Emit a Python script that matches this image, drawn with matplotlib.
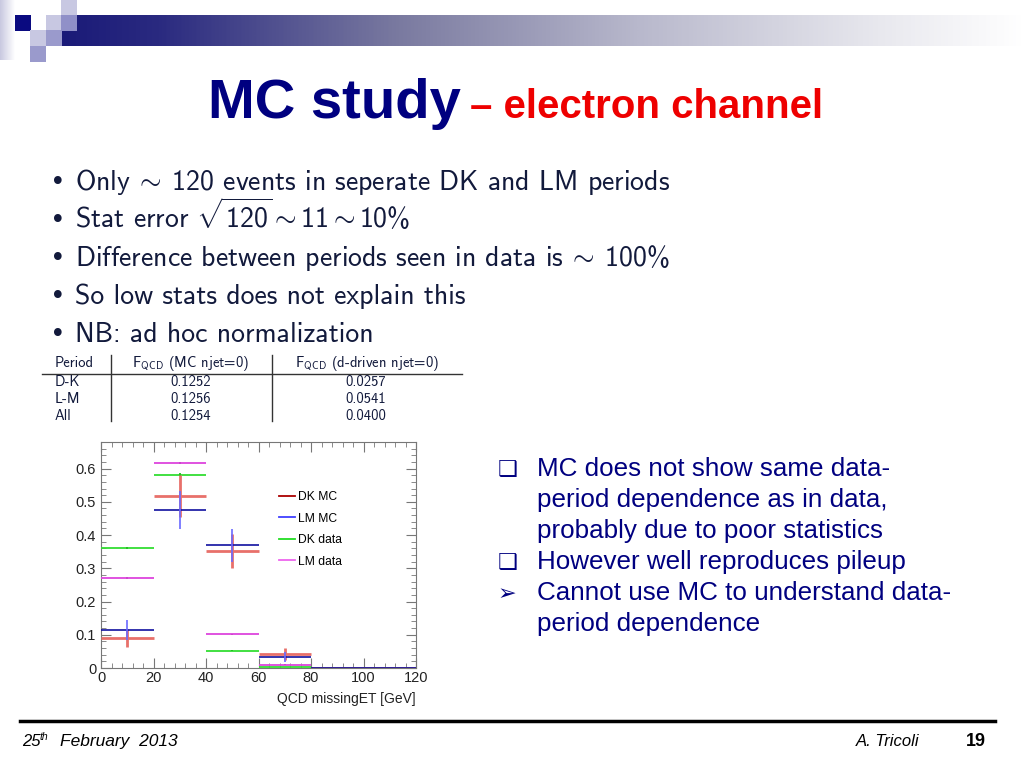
import numpy as np
import matplotlib
matplotlib.use("Agg")
import matplotlib.pyplot as plt
from matplotlib.patches import Rectangle
from matplotlib.colors import LinearSegmentedColormap
from matplotlib.lines import Line2D
from matplotlib.ticker import MultipleLocator

plt.rcParams['mathtext.fontset'] = 'custom'
plt.rcParams['mathtext.rm'] = 'cmss10'
plt.rcParams['mathtext.sf'] = 'cmss10'
plt.rcParams['mathtext.it'] = 'cmss10'
plt.rcParams['mathtext.fallback'] = 'cm'

# ---------------- data ----------------
bin_centers = [10, 30, 50, 70, 90, 110]
bin_halfwidth = 10
dk_mc = [0.090, 0.517, 0.352, 0.041, 0.0, 0.0]
dk_mc_err = [0.027, 0.063, 0.050, 0.018, 0.0, 0.0]
lm_mc = [0.113, 0.476, 0.369, 0.034, 0.0, 0.0]
lm_mc_err = [0.030, 0.057, 0.050, 0.015, 0.0, 0.0]
dk_data = [0.362, 0.582, 0.052, 0.003, 0.0, 0.0]
dk_data_err = [0.003, 0.004, 0.002, 0.001, 0.0, 0.0]
lm_data = [0.270, 0.617, 0.101, 0.010, 0.001, 0.001]
lm_data_err = [0.003, 0.004, 0.002, 0.001, 0.0, 0.0]
series_labels = ["DK MC", "LM MC", "DK data", "LM data"]
x_ticks = [0, 20, 40, 60, 80, 100, 120]
y_ticks = [0, 0.1, 0.2, 0.3, 0.4, 0.5, 0.6]
y_tick_labels = ["0", "0.1", "0.2", "0.3", "0.4", "0.5", "0.6"]

bullets = [
    r"Only$\;\sim\;$120 events in seperate DK and LM periods",
    r"Stat error $\sqrt{\mathsf{120}}\sim\mathsf{11}\sim\mathsf{10\%}$",
    r"Difference between periods seen in data is$\;\sim\;$100%",
    r"So low stats does not explain this",
    r"NB: ad hoc normalization",
]
table_header = ["Period", r"F$_{\mathsf{QCD}}$ (MC njet=0)", r"F$_{\mathsf{QCD}}$ (d-driven njet=0)"]
table_periods = ["D-K", "L-M", "All"]
table_mc = ["0.1252", "0.1256", "0.1254"]
table_dd = ["0.0257", "0.0541", "0.0400"]
right_lines = [
    ("\u2751", "MC does not show same data-"),
    ("", "period dependence as in data,"),
    ("", "probably due to poor statistics"),
    ("\u2751", "However well reproduces pileup"),
    ("\u27A2", "Cannot use MC to understand data-"),
    ("", "period dependence"),
]

W, H = 1024, 768
fig = plt.figure(figsize=(W / 100, H / 100), dpi=100)
fig.patch.set_facecolor("white")

def P(x, y):
    return (x / W, 1 - y / H)

bg = fig.add_axes([0, 0, 1, 1])
bg.set_xlim(0, W)
bg.set_ylim(H, 0)
bg.axis("off")

cmap = LinearSegmentedColormap.from_list(
    "banner", [(0.0, "#1a1a78"), (0.1, "#2a2a80"), (0.35, "#7a7aa0"),
               (0.6, "#b8b8cc"), (0.85, "#e8e8ee"), (1.0, "#ffffff")])
grad = np.linspace(0, 1, 512)[None, :]
bg.imshow(grad, cmap=cmap, aspect="auto", extent=[61, 1024, 46, 15], zorder=1)
bg.imshow(np.linspace(0.75, 0, 64)[None, :], cmap=LinearSegmentedColormap.from_list("l", ["#ffffff", "#c8c8e0"]),
          aspect="auto", extent=[0, 15, 60, 0], zorder=1)
squares = [
    (15, 15, "#0a0a80"),
    (30, 30, "#c8c8e2"),
    (46, 15, "#c8c8e2"),
    (46, 30, "#9a9acc"),
    (61, 0, "#c8c8e2"),
    (61, 15, "#9090c8"),
    (30, 46, "#9a9acc"),
]
for sx, sy, c in squares:
    bg.add_patch(Rectangle((sx, sy), 15.5, 15.5, facecolor=c, edgecolor="none", zorder=2))

bg.plot([20, 995], [721, 721], color="black", lw=2.5, zorder=2)

# ---------------- title ----------------
fig.text(*P(208, 118), "MC study", fontsize=40.5, fontweight="bold", color="#000080",
         family="Liberation Sans", va="baseline", ha="left")
fig.text(*P(470, 118), "\u2013 electron channel", fontsize=29, fontweight="bold", color="#ee0000",
         family="Liberation Sans", va="baseline", ha="left")

# ---------------- bullets ----------------
txt_color = "#121a3c"
for i, line in enumerate(bullets):
    y = 190 + 38 * i
    fig.text(*P(50, y), "\u2022", fontsize=19, color=txt_color, va="baseline", family="DejaVu Sans")
    fig.text(*P(75, y), line, fontsize=20, color=txt_color, family="cmss10", va="baseline")

# ---------------- table ----------------
tfs = 10.5
fig.text(*P(55, 367), table_header[0], fontsize=tfs, family="cmss10", color=txt_color, va="baseline")
fig.text(*P(191, 367), table_header[1], fontsize=tfs, family="cmss10", color=txt_color, va="baseline", ha="center")
fig.text(*P(367, 367), table_header[2], fontsize=tfs, family="cmss10", color=txt_color, va="baseline", ha="center")
for i in range(3):
    y = 386 + 17 * i
    fig.text(*P(55, y), table_periods[i], fontsize=tfs, family="cmss10", color=txt_color, va="baseline")
    fig.text(*P(191, y), table_mc[i], fontsize=tfs, family="cmss10", color=txt_color, va="baseline", ha="center")
    fig.text(*P(366, y), table_dd[i], fontsize=tfs, family="cmss10", color=txt_color, va="baseline", ha="center")
bg.plot([42, 462], [374, 374], color="#333333", lw=1.0, zorder=2)
bg.plot([111, 111], [355, 421], color="#333333", lw=1.0, zorder=2)
bg.plot([272, 272], [355, 421], color="#333333", lw=1.0, zorder=2)

# ---------------- right text ----------------
for i, (mark, line) in enumerate(right_lines):
    y = 476 + 31 * i
    if mark:
        fig.text(*P(498, y), mark, fontsize=16, color="#000080",
                 family=["DejaVu Sans"], va="baseline", fontweight="bold")
    fig.text(*P(537, y), line, fontsize=18.7, color="#000080",
             family="Liberation Sans", va="baseline")

# ---------------- footer text ----------------
fig.text(*P(22, 746), "25", fontsize=12, style="italic", family="Liberation Sans", va="baseline")
fig.text(*P(40, 740), "th", fontsize=7.5, style="italic", family="Liberation Sans", va="baseline")
fig.text(*P(60, 746), "February  2013", fontsize=12.5, style="italic", family="Liberation Sans", va="baseline")
fig.text(*P(919, 746), "A. Tricoli", fontsize=12, style="italic", family="Liberation Sans", va="baseline", ha="right")
fig.text(*P(986, 746), "19", fontsize=13, fontweight="bold", family="Liberation Sans", va="baseline", ha="right")

# ---------------- chart ----------------
left, right, top, bottom = 101, 416, 442, 668
ax = fig.add_axes([left / W, 1 - bottom / H, (right - left) / W, (bottom - top) / H])
ax.set_xlim(0, 120)
ax.set_ylim(0, 0.68)
ax.set_facecolor("white")

def draw(vals, errs, hcol, vcol, lw, z):
    cont = ax.errorbar(bin_centers, vals, yerr=errs, xerr=bin_halfwidth, fmt="none",
                       ecolor=hcol, elinewidth=lw, capsize=0, zorder=z)
    bars = cont.lines[2]
    bars[0].set_color(hcol)
    if len(bars) > 1:
        bars[1].set_color(vcol)
    return cont

draw(lm_data, lm_data_err, "#dd44dd", "#cc44cc", 1.3, 3)
draw(dk_data, dk_data_err, "#33dd33", "#22bb22", 1.3, 3)
draw(dk_mc, dk_mc_err, "#e8706a", "#e8706a", 2.0, 4)
draw(lm_mc, lm_mc_err, "#1010a0", "#6a6aff", 1.2, 5)

for s in ax.spines.values():
    s.set_color("#777777")
    s.set_linewidth(0.8)
ax.set_xticks(x_ticks)
ax.set_yticks(y_ticks)
ax.set_yticklabels(y_tick_labels)
ax.xaxis.set_minor_locator(MultipleLocator(4))
ax.yaxis.set_minor_locator(MultipleLocator(0.02))
ax.tick_params(which="both", direction="in", top=True, right=True, colors="#777777",
               labelcolor="#222222", labelsize=10.5)
ax.tick_params(which="major", length=7)
ax.tick_params(which="minor", length=3.5)
for lab in ax.get_xticklabels() + ax.get_yticklabels():
    lab.set_family("Liberation Sans")
ax.tick_params(axis="x", pad=2)
ax.set_xlabel("QCD missingET [GeV]", loc="right", fontsize=10, family="Liberation Sans",
              color="#222222", labelpad=5)

handles = [Line2D([], [], color=c, lw=1.3) for c in ["#aa0000", "#4040ff", "#22dd22", "#ee66ee"]]
ax.legend(handles, series_labels, loc="upper left", bbox_to_anchor=(0.53, 0.83),
          frameon=False, handlelength=1.3, handletextpad=0.3,
          labelspacing=0.78, prop={"family": "Liberation Sans", "size": 8.7})

fig.savefig("out.png", dpi=100)
